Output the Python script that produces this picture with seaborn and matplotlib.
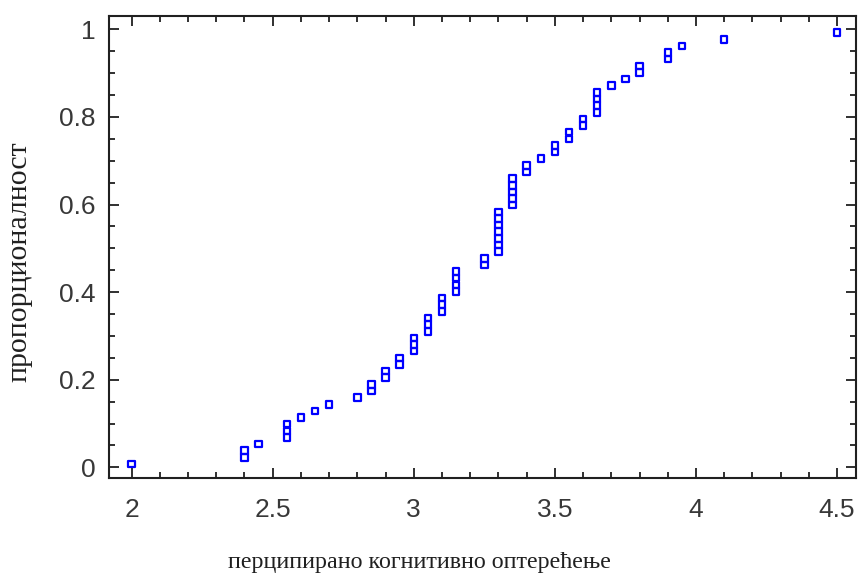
import numpy as np
import pandas as pd
import seaborn as sns
from matplotlib import pyplot as plt
from matplotlib.ticker import MultipleLocator

# observed values of perceived cognitive load and how many times each occurs
load_values = [2.0, 2.4, 2.45, 2.55, 2.6, 2.65, 2.7, 2.8, 2.85, 2.9, 2.95, 3.0,
               3.05, 3.1, 3.15, 3.25, 3.3, 3.35, 3.4, 3.45, 3.5, 3.55, 3.6,
               3.65, 3.7, 3.75, 3.8, 3.9, 3.95, 4.1, 4.5]
load_counts = [1, 2, 1, 3, 1, 1, 1, 1, 2, 2, 2, 3,
               3, 3, 4, 2, 7, 5, 2, 1, 2, 2, 2,
               4, 1, 1, 2, 2, 1, 1, 1]

x_ticks = [2, 2.5, 3, 3.5, 4, 4.5]
y_ticks = [0, 0.2, 0.4, 0.6, 0.8, 1]

x_label = 'перципирано когнитивно оптерећење'
y_label = 'пропорционалност'

# quantile plot: sorted observations vs. cumulative proportion
x = np.sort(np.repeat(load_values, load_counts))
n = len(x)
df = pd.DataFrame({'load': x, 'prop': (np.arange(1, n + 1) - 0.5) / n})

sns.set_style('ticks')
plt.rcParams['font.family'] = ['Liberation Sans', 'DejaVu Sans']

fig = plt.figure(figsize=(8.59, 5.83), dpi=100)
ax = fig.add_axes([0.1272, 0.1796, 0.9965 - 0.1272, 0.973 - 0.1796])

sns.scatterplot(data=df, x='load', y='prop', marker='s', s=22,
                facecolor='none', edgecolor='#0000ff', linewidth=1.6, ax=ax)

ax.set_xlim(1.921, 4.567)
ax.set_ylim(-0.025, 1.031)
ax.set_xticks(x_ticks)
ax.set_xticklabels(['2', '2.5', '3', '3.5', '4', '4.5'])
ax.set_yticks(y_ticks)
ax.set_yticklabels(['0', '0.2', '0.4', '0.6', '0.8', '1'])
ax.xaxis.set_minor_locator(MultipleLocator(0.1))
ax.yaxis.set_minor_locator(MultipleLocator(0.05))
ax.tick_params(which='both', direction='in', top=True, right=True,
               color='#202020', width=1.3)
ax.tick_params(which='major', length=7, labelsize=19, labelcolor='#383838')
ax.tick_params(axis='y', which='major', pad=10)
ax.tick_params(axis='x', which='major', pad=14)
ax.tick_params(which='minor', length=4)
for sp in ax.spines.values():
    sp.set_linewidth(1.5)
    sp.set_color('#202020')

ax.set_xlabel(x_label, fontsize=17.3, family=['Liberation Serif'], color='#202020')
ax.set_ylabel(y_label, fontsize=21.5, family=['Liberation Serif'], color='#202020')
ax.xaxis.set_label_coords(0.416, -0.159)
ax.yaxis.set_label_coords(-0.1035, 0.4676)

fig.savefig('out.png', dpi=100)
